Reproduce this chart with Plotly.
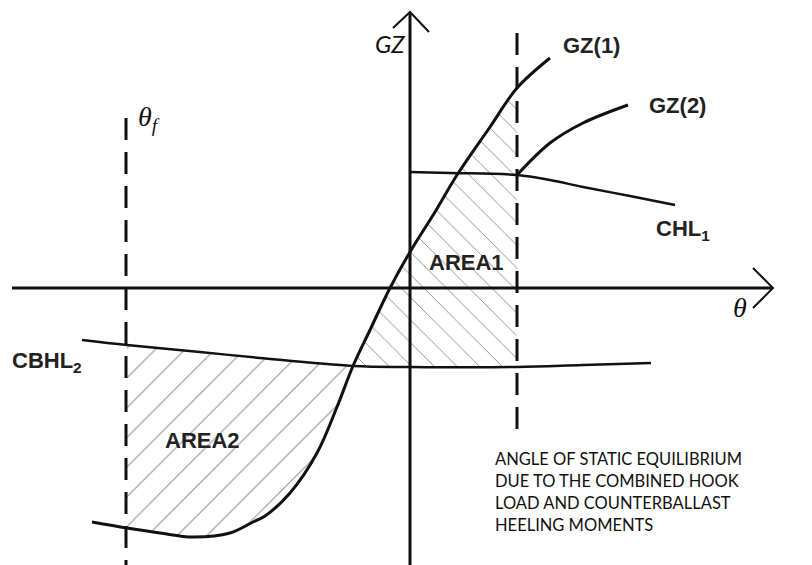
import plotly.graph_objects as go

# diagram units: the origin is where the two axes cross
# (one unit ~ one pixel of the original sketch)

# righting arm curve GZ(1)
gz1_theta = [-318, -283, -250, -217, -180, -157, -145, -120, -93, -73, -57, -40, -20, 0, 25, 47, 80, 107, 140]
gz1_value = [-234, -240, -245, -249, -245, -234, -228, -205, -165, -119, -78, -42, 0, 36, 76, 113, 161, 200, 230]

# reduced righting arm GZ(2), starts at static equilibrium
gz2_theta = [107, 140, 173, 218]
gz2_value = [113, 145, 165, 183]

# hook load heeling arm CHL1
chl1_theta = [0, 40, 107, 140, 173, 220, 265]
chl1_value = [116, 115, 113, 108, 101, 92, 83]

# counterballast heeling arm CBHL2
cbhl2_theta = [-328, -283, -210, -150, -57, 0, 107, 173, 241]
cbhl2_value = [-52, -57, -64, -70, -78, -79, -79, -77, -75]

theta_f = -284      # flooding angle
theta_eq = 107      # angle of static equilibrium

note_lines = [
    "ANGLE OF STATIC EQUILIBRIUM",
    "DUE TO THE COMBINED HOOK",
    "LOAD AND COUNTERBALLAST",
    "HEELING MOMENTS",
]

X_RANGE = [-410, 402]
Y_RANGE = [-277, 288]
INK = "#111111"


def between(thetas, values, lo, hi):
    pts = [(t, v) for t, v in zip(thetas, values) if lo <= t <= hi]
    return [p[0] for p in pts], [p[1] for p in pts]


fig = go.Figure()

# hatched areas
t_top, v_top = between(cbhl2_theta, cbhl2_value, theta_f, -57)
t_bot, v_bot = between(gz1_theta, gz1_value, theta_f, -57)
fig.add_trace(go.Scatter(
    x=t_top + t_bot[::-1], y=v_top + v_bot[::-1], fill="toself", mode="none",
    fillcolor="white",
    fillpattern=dict(shape="/", size=21, solidity=0.05, fgcolor="#222", bgcolor="white"),
))
t_gz, v_gz = between(gz1_theta, gz1_value, -57, theta_eq)
t_cb, v_cb = between(cbhl2_theta, cbhl2_value, -57, theta_eq)
fig.add_trace(go.Scatter(
    x=t_gz + t_cb[::-1], y=v_gz + v_cb[::-1], fill="toself", mode="none",
    fillcolor="white",
    fillpattern=dict(shape="\\", size=16, solidity=0.06, fgcolor="#222", bgcolor="white"),
))

# axes with open arrow heads
fig.add_trace(go.Scatter(x=[-398, 362], y=[0, 0], mode="lines", line=dict(color=INK, width=3)))
fig.add_trace(go.Scatter(x=[0, 0], y=[-277, 275], mode="lines", line=dict(color=INK, width=3)))
fig.add_trace(go.Scatter(x=[343, 363, 343], y=[20, 0, -20], mode="lines", line=dict(color=INK, width=2)))
fig.add_trace(go.Scatter(x=[-17, 0, 19], y=[260, 276, 256], mode="lines", line=dict(color=INK, width=2)))

# dashed angle markers
fig.add_trace(go.Scatter(x=[theta_f, theta_f], y=[170, -277], mode="lines",
                         line=dict(color=INK, width=3, dash="22px,12px")))
fig.add_trace(go.Scatter(x=[theta_eq, theta_eq], y=[255, -150], mode="lines",
                         line=dict(color=INK, width=3, dash="22px,12px")))

# curves
fig.add_trace(go.Scatter(x=gz1_theta, y=gz1_value, mode="lines", line=dict(color=INK, width=3, shape="spline")))
fig.add_trace(go.Scatter(x=gz2_theta, y=gz2_value, mode="lines", line=dict(color=INK, width=3, shape="spline")))
fig.add_trace(go.Scatter(x=chl1_theta, y=chl1_value, mode="lines", line=dict(color=INK, width=2.5, shape="spline")))
fig.add_trace(go.Scatter(x=cbhl2_theta, y=cbhl2_value, mode="lines", line=dict(color=INK, width=2.5, shape="spline")))

bold = dict(family="Liberation Sans, Arial", size=22, color="#222")
labels = [
    ("<b>GZ(1)</b>", 181, 243),
    ("<b>GZ(2)</b>", 267, 183),
    ("<b>CHL<sub>1</sub></b>", 273, 58),
    ("<b>AREA1</b>", 56, 26),
    ("<b>AREA2</b>", -208, -152),
    ("<b>CBHL<sub>2</sub></b>", -363, -74),
]
for txt, x, y in labels:
    fig.add_annotation(x=x, y=y, text=txt, showarrow=False, font=bold)

fig.add_annotation(x=-20, y=245, text="<i>GZ</i>", showarrow=False,
                   font=dict(family="Lato", size=24, color="#111"))
fig.add_annotation(x=-274, y=170, text="<i>θ</i><sub><i>f</i></sub>", showarrow=False,
                   xanchor="left", font=dict(family="Liberation Serif", size=28, color="#111"))
fig.add_annotation(x=330, y=-19, text="<i>θ</i>", showarrow=False,
                   font=dict(family="Liberation Serif", size=28, color="#111"))

for i, line in enumerate(note_lines):
    fig.add_annotation(x=83, y=-171 - 22 * i, text=line, showarrow=False, xanchor="left",
                       font=dict(family="Lato", size=16.5, color="#111"))

fig.update_layout(
    width=812, height=565, margin=dict(l=0, r=0, t=0, b=0),
    paper_bgcolor="white", plot_bgcolor="white", showlegend=False,
    xaxis=dict(range=X_RANGE, visible=False, fixedrange=True),
    yaxis=dict(range=Y_RANGE, visible=False, fixedrange=True),
)

fig.write_html("out.html", config={"displayModeBar": False},
               post_script="document.body.style.margin = '0';")
